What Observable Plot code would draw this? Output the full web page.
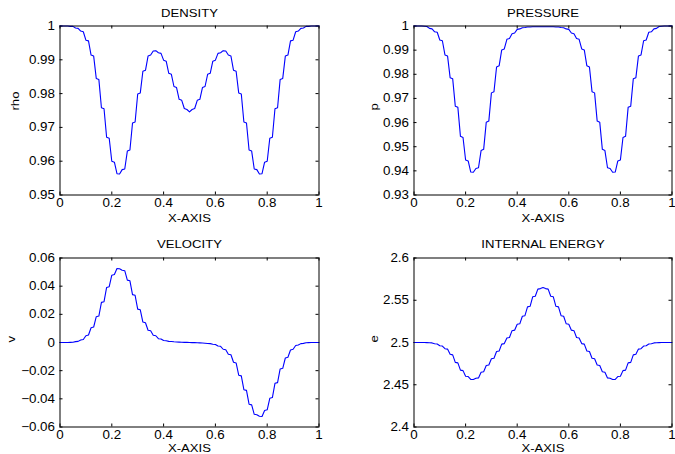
<!DOCTYPE html>
<html><head><meta charset="utf-8">
<script src="https://cdn.jsdelivr.net/npm/d3@7"></script>
<script src="https://cdn.jsdelivr.net/npm/@observablehq/plot@0.6"></script>
<style>
html,body{margin:0;padding:0;background:#fff;}
#fig{position:relative;width:675px;height:454px;overflow:hidden;background:#fff;}
#fig>div{position:absolute;}
svg{overflow:visible;}
</style></head><body><div id="fig"></div>
<script>
const xGrid = [0,0.01,0.02,0.03,0.04,0.05,0.06,0.07,0.08,0.09,
0.1,0.11,0.12,0.13,0.14,0.15,0.16,0.17,0.18,0.19,
0.2,0.21,0.22,0.23,0.24,0.25,0.26,0.27,0.28,0.29,
0.3,0.31,0.32,0.33,0.34,0.35,0.36,0.37,0.38,0.39,
0.4,0.41,0.42,0.43,0.44,0.45,0.46,0.47,0.48,0.49,
0.5,0.51,0.52,0.53,0.54,0.55,0.56,0.57,0.58,0.59,
0.6,0.61,0.62,0.63,0.64,0.65,0.66,0.67,0.68,0.69,
0.7,0.71,0.72,0.73,0.74,0.75,0.76,0.77,0.78,0.79,
0.8,0.81,0.82,0.83,0.84,0.85,0.86,0.87,0.88,0.89,
0.9,0.91,0.92,0.93,0.94,0.95,0.96,0.97,0.98,0.99,1];

const rho = [1,1,1,1,0.9999,0.9999,0.9994,0.9993,0.9985,0.9983,
0.9958,0.9956,0.9914,0.9911,0.9845,0.9842,0.9758,0.9755,0.9671,0.9668,
0.9600,0.9597,0.9563,0.9562,0.9575,0.9577,0.9630,0.9633,0.9713,0.9716,
0.9799,0.9802,0.9866,0.9869,0.9911,0.9914,0.9926,0.9927,0.9921,0.9919,
0.9899,0.9896,0.9860,0.9857,0.9821,0.9818,0.9783,0.9780,0.9756,0.9753,
0.9746,
0.9753,0.9756,0.9780,0.9783,0.9818,0.9821,0.9857,0.9860,0.9896,0.9899,
0.9919,0.9921,0.9927,0.9926,0.9914,0.9911,0.9869,0.9866,0.9802,0.9799,
0.9716,0.9713,0.9633,0.9630,0.9577,0.9575,0.9562,0.9563,0.9597,0.9600,
0.9668,0.9671,0.9755,0.9758,0.9842,0.9845,0.9911,0.9914,0.9956,0.9958,
0.9983,0.9985,0.9993,0.9994,0.9999,0.9999,1,1,1,1];

const pres = [1,1,1,1,0.9999,0.9998,0.9990,0.9988,0.9976,0.9974,
0.9942,0.9939,0.9880,0.9876,0.9786,0.9781,0.9668,0.9663,0.9543,0.9538,
0.9445,0.9441,0.9395,0.9394,0.9410,0.9413,0.9484,0.9489,0.9601,0.9606,
0.9723,0.9728,0.9830,0.9835,0.9901,0.9905,0.9945,0.9948,0.9968,0.9971,
0.9986,0.9988,0.9993,0.9994,0.9996,0.9996,0.9997,0.9997,0.9997,0.9997,
0.9997,
0.9997,0.9997,0.9997,0.9997,0.9996,0.9996,0.9994,0.9993,0.9988,0.9986,
0.9971,0.9968,0.9948,0.9945,0.9905,0.9901,0.9835,0.9830,0.9728,0.9723,
0.9606,0.9601,0.9489,0.9484,0.9413,0.9410,0.9394,0.9395,0.9441,0.9445,
0.9538,0.9543,0.9663,0.9668,0.9781,0.9786,0.9876,0.9880,0.9939,0.9942,
0.9974,0.9976,0.9988,0.9990,0.9998,0.9999,1,1,1,1];

const vel = [0,0,0,0,0.0001,0.0002,0.0006,0.0008,0.0018,0.0021,
0.0048,0.0053,0.0105,0.0110,0.0183,0.0188,0.0285,0.0290,0.0391,0.0396,
0.0478,0.0483,0.0525,0.0524,0.0513,0.0510,0.0443,0.0438,0.0340,0.0335,
0.0237,0.0232,0.0145,0.0140,0.0087,0.0083,0.0051,0.0048,0.0027,0.0025,
0.0014,0.0012,0.0008,0.0007,0.0005,0.0004,0.0003,0.0002,0.0001,0.0001,
0,
-0.0001,-0.0001,-0.0002,-0.0003,-0.0004,-0.0005,-0.0007,-0.0008,-0.0012,-0.0014,
-0.0025,-0.0027,-0.0048,-0.0051,-0.0083,-0.0087,-0.0140,-0.0145,-0.0232,-0.0237,
-0.0335,-0.0340,-0.0438,-0.0443,-0.0510,-0.0513,-0.0524,-0.0525,-0.0483,-0.0478,
-0.0396,-0.0391,-0.0290,-0.0285,-0.0188,-0.0183,-0.0110,-0.0105,-0.0053,-0.0048,
-0.0021,-0.0018,-0.0008,-0.0006,-0.0002,-0.0001,0,0,0,0];

const ener = [2.5,2.5,2.5,2.5,2.5,2.4999,2.4997,2.4995,2.4985,2.4982,
2.4962,2.4958,2.4927,2.4922,2.4860,2.4854,2.4765,2.4759,2.4673,2.4667,
2.4601,2.4597,2.4564,2.4563,2.4577,2.4581,2.4648,2.4654,2.4727,2.4733,
2.4807,2.4813,2.4894,2.4900,2.4981,2.4987,2.5053,2.5059,2.5140,2.5146,
2.5215,2.5221,2.5311,2.5317,2.5422,2.5428,2.5541,2.5547,2.5632,2.5638,
2.5651,
2.5638,2.5632,2.5547,2.5541,2.5428,2.5422,2.5317,2.5311,2.5221,2.5215,
2.5146,2.5140,2.5059,2.5053,2.4987,2.4981,2.4900,2.4894,2.4813,2.4807,
2.4733,2.4727,2.4654,2.4648,2.4581,2.4577,2.4563,2.4564,2.4597,2.4601,
2.4667,2.4673,2.4759,2.4765,2.4854,2.4860,2.4922,2.4927,2.4958,2.4962,
2.4982,2.4985,2.4995,2.4997,2.4999,2.5,2.5,2.5,2.5,2.5];

const xTicks = [0,0.2,0.4,0.6,0.8,1];
const rhoTicks = [0.95,0.96,0.97,0.98,0.99,1];
const presTicks = [0.93,0.94,0.95,0.96,0.97,0.98,0.99,1];
const velTicks = [-0.06,-0.04,-0.02,0,0.02,0.04,0.06];
const enerTicks = [2.4,2.45,2.5,2.55,2.6];
const titles = ["DENSITY","PRESSURE","VELOCITY","INTERNAL ENERGY"];
const yLabels = ["rho","p","v","e"];
const xLabel = "X-AXIS";

function fmt(d){ return d < 0 ? "\u2212" + String(-d) : String(d); }

function stretch(svg, sel, s){
  svg.querySelectorAll(sel).forEach(el => {
    const t = el.getAttribute("transform");
    if (t) el.setAttribute("transform", t + ` scale(${s},1)`);
  });
}

function panel(o){
  const W = o.width, H = 227;
  const fw = W - o.ml - o.mr, fh = H - o.mt - o.mb;
  const tl = 3;
  const data = xGrid.map((x, i) => ({x, y: o.values[i]}));
  const svg = Plot.plot({
    width: W, height: H,
    marginLeft: o.ml, marginRight: o.mr, marginTop: o.mt, marginBottom: o.mb,
    x: {domain: [0, 1]},
    y: {domain: o.domain},
    style: {fontFamily: "'Liberation Sans', Arial, sans-serif", fontSize: "12.5px", color: "black", background: "transparent", overflow: "visible"},
    marks: [
      Plot.tickX(xTicks, {x: d => d, insetTop: fh - tl, stroke: "black"}),
      Plot.tickX(xTicks, {x: d => d, insetBottom: fh - tl, stroke: "black"}),
      Plot.tickY(o.ticks, {y: d => d, insetRight: fw - tl, stroke: "black"}),
      Plot.tickY(o.ticks, {y: d => d, insetLeft: fw - tl, stroke: "black"}),
      Plot.axisX({ticks: xTicks, tickSize: 0, tickPadding: 3.5, tickFormat: fmt, label: null}),
      Plot.axisY({ticks: o.ticks, tickSize: 0, tickPadding: 5, tickFormat: fmt, label: null}),
      Plot.line(data, {x: "x", y: "y", stroke: "#0000ff", strokeWidth: 1.1}),
      Plot.frame({stroke: "black", strokeWidth: 1}),
      Plot.text([o.title], {frameAnchor: "top", lineAnchor: "middle", dy: o.titleDy, fontSize: 10.5}),
      Plot.text([xLabel], {frameAnchor: "bottom", lineAnchor: "middle", dy: o.xlabDy, fontSize: 10.5}),
      Plot.text([o.ylabel], {frameAnchor: "left", lineAnchor: "middle", dx: o.ylabDx, rotate: -90, fontSize: 10.5})
    ]
  });
  stretch(svg, "g[aria-label='text'] text", 1.25);
  stretch(svg, "g[aria-label$='tick label'] text", 1.07);
  const div = document.createElement("div");
  div.style.left = o.left + "px";
  div.style.top = o.top + "px";
  div.appendChild(svg);
  document.getElementById("fig").appendChild(div);
}

panel({left: 0, top: 0, width: 330, ml: 59.5, mr: 11.5, mt: 25.5, mb: 32.5,
  values: rho, domain: [0.95, 1], ticks: rhoTicks, title: titles[0], ylabel: yLabels[0],
  titleDy: -12, xlabDy: 23.5, ylabDx: -44.5});
panel({left: 340, top: 0, width: 335, ml: 73.5, mr: 3.5, mt: 25.5, mb: 32.5,
  values: pres, domain: [0.93, 1], ticks: presTicks, title: titles[1], ylabel: yLabels[1],
  titleDy: -12, xlabDy: 23.5, ylabDx: -39.5});
panel({left: 0, top: 227, width: 330, ml: 59.5, mr: 11.5, mt: 30.5, mb: 27.5,
  values: vel, domain: [-0.06, 0.06], ticks: velTicks, title: titles[2], ylabel: yLabels[2],
  titleDy: -13.5, xlabDy: 21.5, ylabDx: -48.5});
panel({left: 340, top: 227, width: 335, ml: 73.5, mr: 3.5, mt: 30.5, mb: 27.5,
  values: ener, domain: [2.4, 2.6], ticks: enerTicks, title: titles[3], ylabel: yLabels[3],
  titleDy: -13.5, xlabDy: 21.5, ylabDx: -39.5});
</script></body></html>
